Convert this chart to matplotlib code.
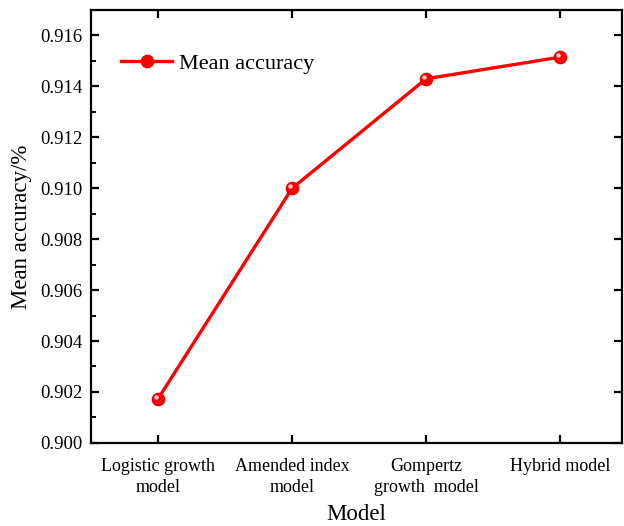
import matplotlib.pyplot as plt
import matplotlib.transforms as mtransforms
from matplotlib.ticker import MultipleLocator

models = ["Logistic growth\nmodel", "Amended index\nmodel", "Gompertz\ngrowth  model", "Hybrid model"]
mean_acc = [0.90173, 0.91000, 0.91430, 0.91515]

plt.rcParams["font.family"] = ["Liberation Serif", "DejaVu Serif"]

fig = plt.figure(figsize=(6.24, 5.26), dpi=100)
ax = fig.add_axes([0.1458, 0.158, 0.851, 0.823])

x = list(range(len(models)))
ax.plot(x, mean_acc, color="#ff0000", lw=2.4, marker="o", ms=9,
        mfc="#ff0000", mec="#e00000", mew=0.8, label="Mean accuracy", zorder=3)
# small highlight on the markers (sphere look)
hl = mtransforms.offset_copy(ax.transData, fig=fig, x=-1.5, y=1.5, units="points")
ax.plot(x, mean_acc, ls="none", marker="o", ms=3.2, mfc="#ffd0d0", mec="none",
        transform=hl, zorder=4)

ax.set_xlim(-0.5, 3.46)
ax.set_ylim(0.900, 0.917)
ax.set_xticks(x)
ax.set_xticklabels(models, fontsize=13, linespacing=1.3)
ax.set_yticks([0.900, 0.902, 0.904, 0.906, 0.908, 0.910, 0.912, 0.914, 0.916])
ax.set_yticklabels(["0.900", "0.902", "0.904", "0.906", "0.908", "0.910",
                    "0.912", "0.914", "0.916"], fontsize=13.5)
ax.yaxis.set_minor_locator(MultipleLocator(0.001))
ax.tick_params(which="major", direction="in", length=6, width=1.6, top=True, right=True, pad=6)
ax.tick_params(axis="x", which="major", pad=11)
ax.tick_params(which="minor", direction="in", length=3.5, width=1.4, left=True, right=False)
ax.tick_params(axis="x", which="minor", bottom=False, top=False)
for s in ax.spines.values():
    s.set_linewidth(1.6)

ax.set_xlabel("Model", fontsize=16.5, labelpad=6)
ax.set_ylabel("Mean accuracy/%", fontsize=16.5, labelpad=6)

ax.legend(loc="upper left", frameon=False, fontsize=16, handlelength=2.3,
          bbox_to_anchor=(0.04, 0.92), borderaxespad=0, handletextpad=0.3)

fig.savefig("out.png", dpi=100)
